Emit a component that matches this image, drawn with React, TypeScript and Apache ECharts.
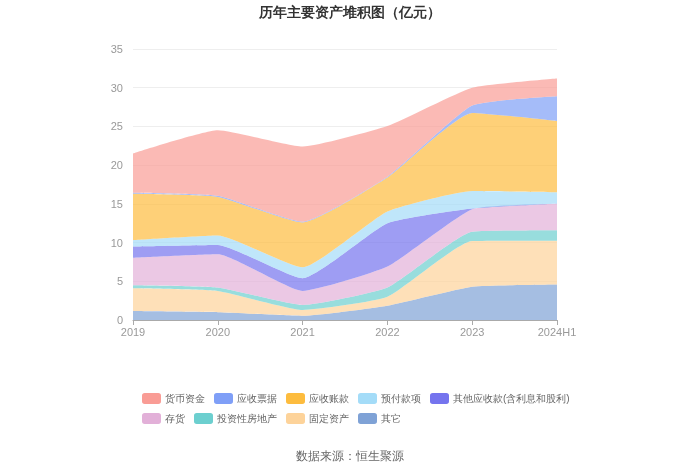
import React, { useEffect, useRef } from "react";
import * as echarts from "echarts";

const categories = ["2019", "2020", "2021", "2022", "2023", "2024H1"];
const seriesNames = ["货币资金", "应收票据", "应收账款", "预付款项", "其他应收款(含利息和股利)", "存货", "投资性房地产", "固定资产", "其它"];
const cash = [5.05, 8.45, 9.7, 6.55, 2.3, 2.3];
const notesReceivable = [0.15, 0.15, 0.1, 0.1, 0.95, 3.2];
const accountsReceivable = [6.0, 5.0, 5.8, 4.4, 10.1, 9.2];
const prepayments = [0.8, 1.2, 1.4, 1.5, 2.25, 1.45];
const otherReceivables = [1.45, 1.2, 1.65, 5.6, 0.1, 0.05];
const inventory = [3.55, 4.3, 1.8, 2.7, 2.9, 3.4];
const investmentProperty = [0.4, 0.45, 0.65, 1.2, 1.2, 1.35];
const fixedAssets = [2.95, 2.75, 0.75, 1.15, 5.9, 5.65];
const others = [1.15, 1.0, 0.55, 1.85, 4.3, 4.6];
const yTicks = { min: 0, max: 35, interval: 5 };

const colors: Record<string, string> = {
  "货币资金": "#f99c95",
  "应收票据": "#7f9ff7",
  "应收账款": "#fdbc3e",
  "预付款项": "#a4dcf8",
  "其他应收款(含利息和股利)": "#7574ee",
  "存货": "#e2b0d8",
  "投资性房地产": "#6ccfcf",
  "固定资产": "#fdd39a",
  "其它": "#7fa2d6",
};

export default function App() {
  const ref = useRef<HTMLDivElement>(null);
  useEffect(() => {
    if (!ref.current) return;
    const chart = echarts.init(ref.current, undefined, { renderer: "svg" });
    const dataMap: Record<string, number[]> = {
      "货币资金": cash,
      "应收票据": notesReceivable,
      "应收账款": accountsReceivable,
      "预付款项": prepayments,
      "其他应收款(含利息和股利)": otherReceivables,
      "存货": inventory,
      "投资性房地产": investmentProperty,
      "固定资产": fixedAssets,
      "其它": others,
    };
    const stackOrder = [...seriesNames].reverse();
    chart.setOption({
      animation: false,
      title: {
        text: "历年主要资产堆积图（亿元）",
        left: "center",
        top: 0,
        textStyle: { fontSize: 14, fontWeight: "bold", color: "#333" },
      },
      graphic: [
        {
          type: "text",
          left: "center",
          top: 450,
          style: { text: "数据来源：恒生聚源", fontSize: 12, fill: "#666" },
        },
      ],
      legend: {
        data: seriesNames,
        left: 137,
        top: 388,
        width: 440,
        itemWidth: 19,
        itemHeight: 11,
        itemGap: 9,
        icon: "roundRect",
        textStyle: { fontSize: 10, color: "#666", padding: [0, 0, 0, -1] },
      },
      grid: { left: 133, right: 143, top: 49, bottom: 154 },
      xAxis: {
        type: "category",
        data: categories,
        boundaryGap: false,
        axisLine: { lineStyle: { color: "#aaa" } },
        axisTick: { show: true, lineStyle: { color: "#aaa" } },
        axisLabel: { color: "#999", fontSize: 11, margin: 6 },
      },
      yAxis: {
        type: "value",
        min: yTicks.min,
        max: yTicks.max,
        interval: yTicks.interval,
        axisLine: { show: false },
        axisTick: { show: false },
        axisLabel: { color: "#999", fontSize: 11, margin: 10 },
        splitLine: { lineStyle: { color: "#eee" } },
      },
      series: stackOrder.map((name) => ({
        name,
        type: "line",
        stack: "total",
        smooth: 0.15,
        symbol: "none",
        data: dataMap[name],
        color: colors[name],
        itemStyle: { color: colors[name] },
        lineStyle: { width: 0 },
        areaStyle: { color: colors[name], opacity: 0.7 },
      })),
    });
    return () => chart.dispose();
  }, []);
  return <div ref={ref} style={{ position: "fixed", left: 0, top: 0, width: 700, height: 474 }} />;
}
